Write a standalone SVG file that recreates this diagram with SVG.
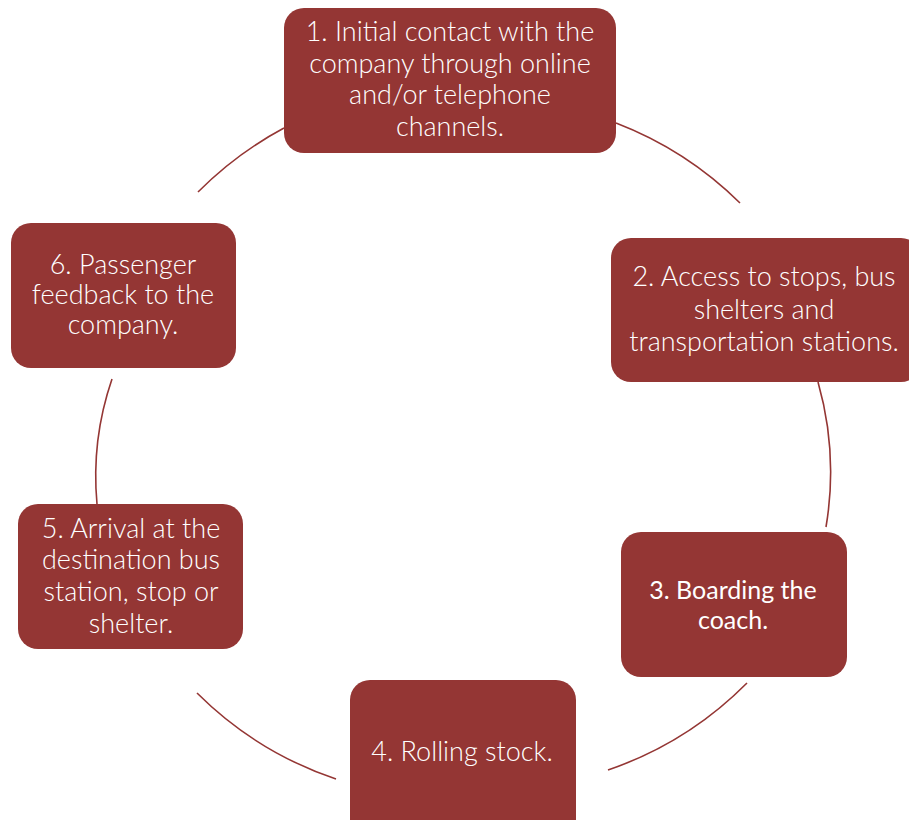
<svg xmlns="http://www.w3.org/2000/svg" width="909" height="820" viewBox="0 0 909 820">
<style>
.box{fill:#943634;}
.lbl{font-family:Lato,"Liberation Sans",sans-serif;font-weight:300;font-size:27px;fill:#ffffff;text-anchor:middle;}
.lbl3{font-family:Lato,"Liberation Sans",sans-serif;font-weight:400;font-size:25px;fill:#ffffff;text-anchor:middle;}
.arc{fill:none;stroke:#943634;stroke-width:1.6;}
</style>
<rect width="909" height="820" fill="#ffffff"/>
<g id="connectors">
<path class="arc" d="M198,192 A360,360 0 0 1 284,128"/>
<path class="arc" d="M616,123 A360,360 0 0 1 740,203"/>
<path class="arc" d="M818,382 A330,330 0 0 1 826,527"/>
<path class="arc" d="M747,683 A360,360 0 0 1 608,770"/>
<path class="arc" d="M336,779 A360,360 0 0 1 197,693"/>
<path class="arc" d="M97,504 A300,300 0 0 1 112,379"/>
</g>
<g id="node1">
<rect class="box" x="284" y="8" width="332" height="145" rx="20"/>
<text class="lbl" x="450" y="41">1. Initial contact with the</text>
<text class="lbl" x="450" y="73">company through online</text>
<text class="lbl" x="450" y="104">and/or telephone</text>
<text class="lbl" x="450" y="136">channels.</text>
</g>
<g id="node2">
<rect class="box" x="611" y="238" width="310" height="144" rx="20"/>
<text class="lbl" x="764" y="286">2. Access to stops, bus</text>
<text class="lbl" x="764" y="319">shelters and</text>
<text class="lbl" x="764" y="351">transportation stations.</text>
</g>
<g id="node3">
<rect class="box" x="621" y="532" width="226" height="145" rx="20"/>
<text class="lbl3" x="733" y="599">3. Boarding the</text>
<text class="lbl3" x="733" y="629">coach.</text>
</g>
<g id="node4">
<rect class="box" x="350" y="680" width="226" height="160" rx="20"/>
<text class="lbl" x="462" y="761">4. Rolling stock.</text>
</g>
<g id="node5">
<rect class="box" x="18" y="504" width="225" height="145" rx="20"/>
<text class="lbl" x="131" y="538">5. Arrival at the</text>
<text class="lbl" x="131" y="569">destination bus</text>
<text class="lbl" x="131" y="601">station, stop or</text>
<text class="lbl" x="131" y="633">shelter.</text>
</g>
<g id="node6">
<rect class="box" x="11" y="223" width="225" height="145" rx="20"/>
<text class="lbl" x="123" y="274">6. Passenger</text>
<text class="lbl" x="123" y="304">feedback to the</text>
<text class="lbl" x="123" y="334">company.</text>
</g>
</svg>
